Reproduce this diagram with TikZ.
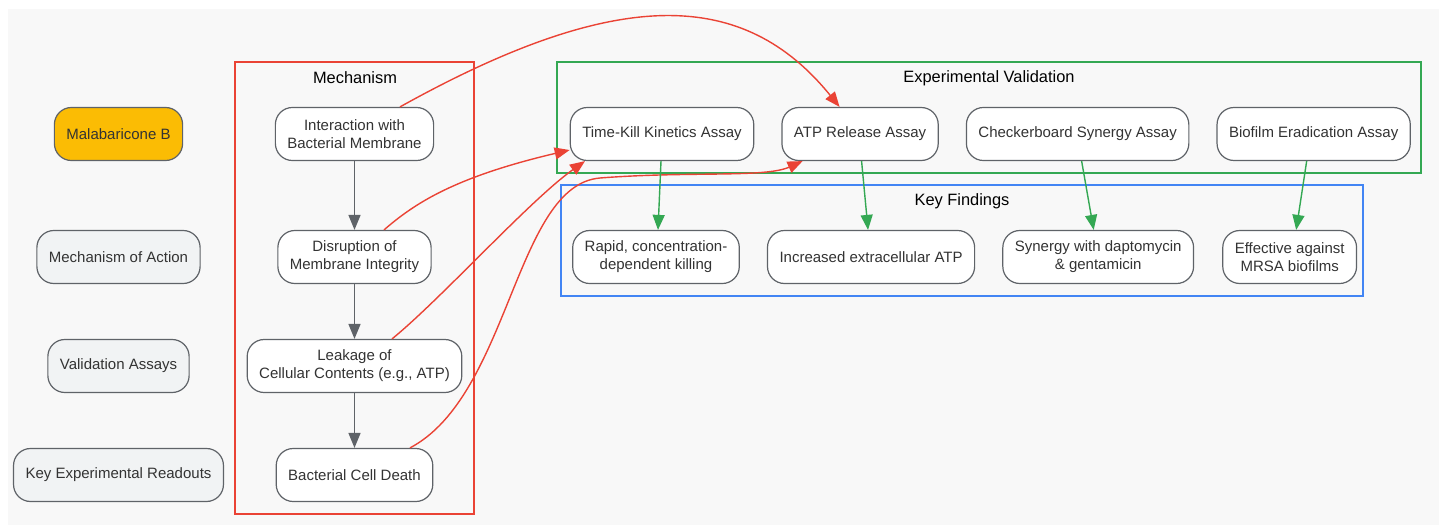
\documentclass[tikz,border=0pt]{standalone}
\usepackage{fontspec}
\setmainfont{Liberation Sans}
\usepackage{xcolor}
\definecolor{bggray}{HTML}{F8F8F8}
\definecolor{edgegray}{HTML}{5F6368}
\definecolor{txtgray}{HTML}{333333}
\definecolor{legendfill}{HTML}{F1F3F4}
\definecolor{gold}{HTML}{FBBC04}
\definecolor{mechred}{HTML}{EA4335}
\definecolor{valgreen}{HTML}{34A853}
\definecolor{findblue}{HTML}{4285F4}
\usetikzlibrary{positioning,arrows.meta}

\begin{document}
\begin{tikzpicture}[x=1pt, y=-1pt, node distance = 54.8pt,
	box/.style={rectangle, minimum height = 53pt, rounded corners = 17pt, inner xsep = 12pt,
		line width = 1.2pt, draw = edgegray, fill = white, text = txtgray, align = center,
		font = \fontsize{15}{18}\selectfont},
	legend/.style={box, fill = legendfill},
	cluster/.style={draw = #1, line width = 1.2pt},
	clabel/.style={font = \fontsize{16.4}{20}\selectfont, text = black},
	flow/.style={draw = edgegray, line width = 1.5pt, -{Triangle[length=15pt,width=12pt]}},
	cause/.style={draw = mechred, line width = 1.4pt, -{Triangle[length=15pt,width=12pt]}},
	result/.style={draw = valgreen, line width = 1.4pt, -{Triangle[length=15pt,width=12pt]}}]
	\fill[bggray] (8,9) rectangle (1439,525);
	\useasboundingbox (0,0) rectangle (1445,527);
	% groups
	\draw[cluster=mechred] (235,62) rectangle (474,514);
	\draw[cluster=valgreen] (557,62) rectangle (1421,173);
	\draw[cluster=findblue] (561,185) rectangle (1363,296);
	\node (mechlbl) [clabel] at (355,78) {Mechanism};
	\node (vallbl) [clabel] at (989,78) {Experimental Validation};
	\node (findlbl) [clabel] at (962,201) {Key Findings};
	% legend
	\node (mal) [box, fill = gold] at (118.5,134) {Malabaricone B};
	\node (moa) [legend, below=68.8pt of mal] {Mechanism of Action};
	\node (va) [legend, below=of moa] {Validation Assays};
	\node (ker) [legend, below=of va] {Key Experimental Readouts};
	% mechanism
	\node (inter) [box] at (354.5,134) {Interaction with\\Bacterial Membrane};
	\node (disr) [box, below=68.8pt of inter] {Disruption of\\Membrane Integrity};
	\node (leak) [box, below=of disr] {Leakage of\\Cellular Contents (e.g., ATP)};
	\node (death) [box, below=of leak] {Bacterial Cell Death};
	% assays
	\node (tk) [box] at (662,134) {Time-Kill Kinetics Assay};
	\node (atp) [box, right=27pt of tk] {ATP Release Assay};
	\node (cb) [box, right=27pt of atp] {Checkerboard Synergy Assay};
	\node (bio) [box, right=27pt of cb] {Biofilm Eradication Assay};
	% findings
	\node (rapid) [box] at (656,257) {Rapid, concentration-\\dependent killing};
	\node (incr) [box, right=27pt of rapid] {Increased extracellular ATP};
	\node (syn) [box, right=27pt of incr] {Synergy with daptomycin\\\& gentamicin};
	\node (eff) [box, right=28pt of syn] {Effective against\\MRSA biofilms};

	\draw[flow] (inter) -- (disr);
	\draw[flow] (disr) -- (leak);
	\draw[flow] (leak) -- (death);

	\draw[cause] ([xshift=45.5pt]inter.north) .. controls (619,-15) and (744,-11) .. ([xshift=-20.5pt]atp.north);
	\draw[cause] ([xshift=29.5pt]disr.north) .. controls (415,203) and (455,177) .. ([yshift=-16pt]tk.west);
	\draw[cause] ([xshift=37.5pt]leak.north) .. controls (440,300) and (530,200) .. ([xshift=-77pt]tk.south);
	\draw[cause] ([xshift=55.5pt]death.north) .. controls (510,395) and (515,185) .. (600,178)
		.. controls (690,171) and (765,178) .. ([xshift=-57.5pt]atp.south);

	\draw[result] ([xshift=-1pt]tk.south) -- ([xshift=2pt]rapid.north);
	\draw[result] ([xshift=1.5pt]atp.south) -- ([xshift=-3pt]incr.north);
	\draw[result] ([xshift=4pt]cb.south) -- ([xshift=-4.5pt]syn.north);
	\draw[result] ([xshift=-7pt]bio.south) -- ([xshift=6.5pt]eff.north);
\end{tikzpicture}
\end{document}
